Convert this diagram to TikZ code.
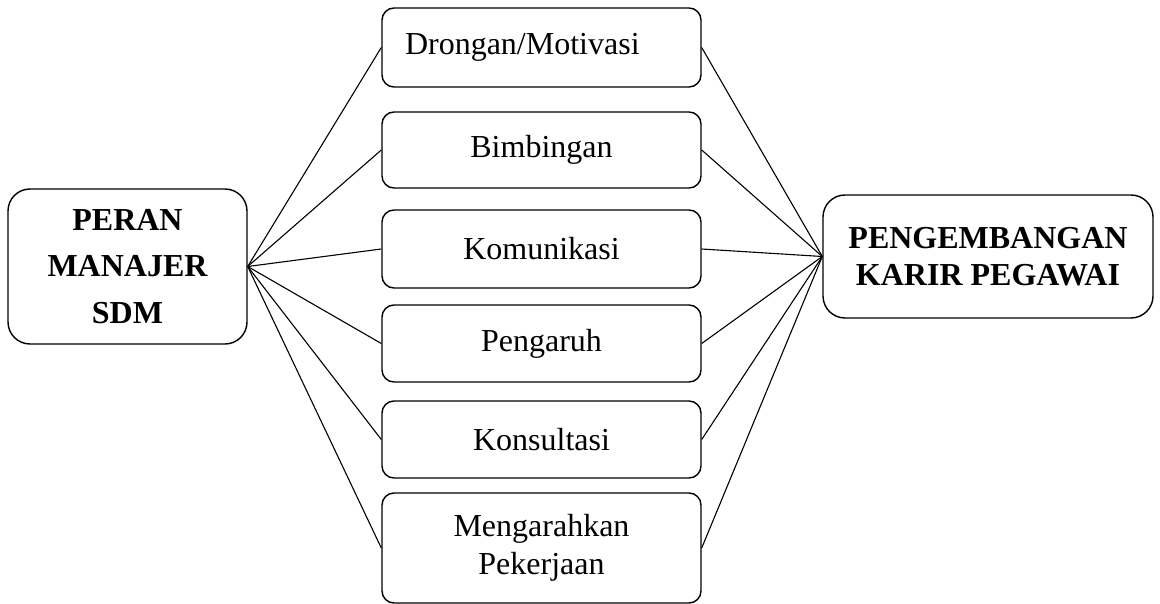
\documentclass[tikz,border=0pt]{standalone}
\usepackage{fontspec}
\setmainfont{Liberation Serif}
\begin{document}
\begin{tikzpicture}[x=1pt,y=-1pt,
  box/.style={draw,line width=1.4pt,rounded corners=12pt,inner sep=0pt,align=center,
    minimum width=319pt,font=\fontsize{32}{38}\selectfont},
  bigbox/.style={draw,line width=1.4pt,rounded corners=22pt,inner sep=0pt,align=center,
    font=\fontsize{32}{37}\selectfont\bfseries},
  link/.style={line width=1.1pt}]
\useasboundingbox (0,0) rectangle (1160,604);
\node[bigbox,minimum width=239pt,minimum height=155pt,font=\fontsize{32}{46.5}\selectfont\bfseries] (L) at (127.5,266.5) {PERAN\\MANAJER\\SDM};
\node[bigbox,minimum width=330pt,minimum height=123pt] (R) at (988,256.5) {PENGEMBANGAN\\KARIR PEGAWAI};
\node[box,minimum height=79pt,text width=273pt,align=left,inner xsep=23pt] (b1) at (541.5,47.5) {Drongan/Motivasi};
\node[box,minimum height=76pt] (b2) at (541.5,150) {Bimbingan};
\node[box,minimum height=78pt] (b3) at (541.5,249) {Komunikasi};
\node[box,minimum height=77pt] (b4) at (541.5,343.5) {Pengaruh};
\node[box,minimum height=77pt] (b5) at (541.5,439.5) {Konsultasi};
\node[box,minimum height=110pt] (b6) at (541.5,548) {Mengarahkan\\Pekerjaan};
\foreach \b in {b1,b2,b3,b4,b5,b6}{
  \draw[link] (L.east) -- (\b.west);
  \draw[link] (\b.east) -- (R.west);
}
\end{tikzpicture}
\end{document}
